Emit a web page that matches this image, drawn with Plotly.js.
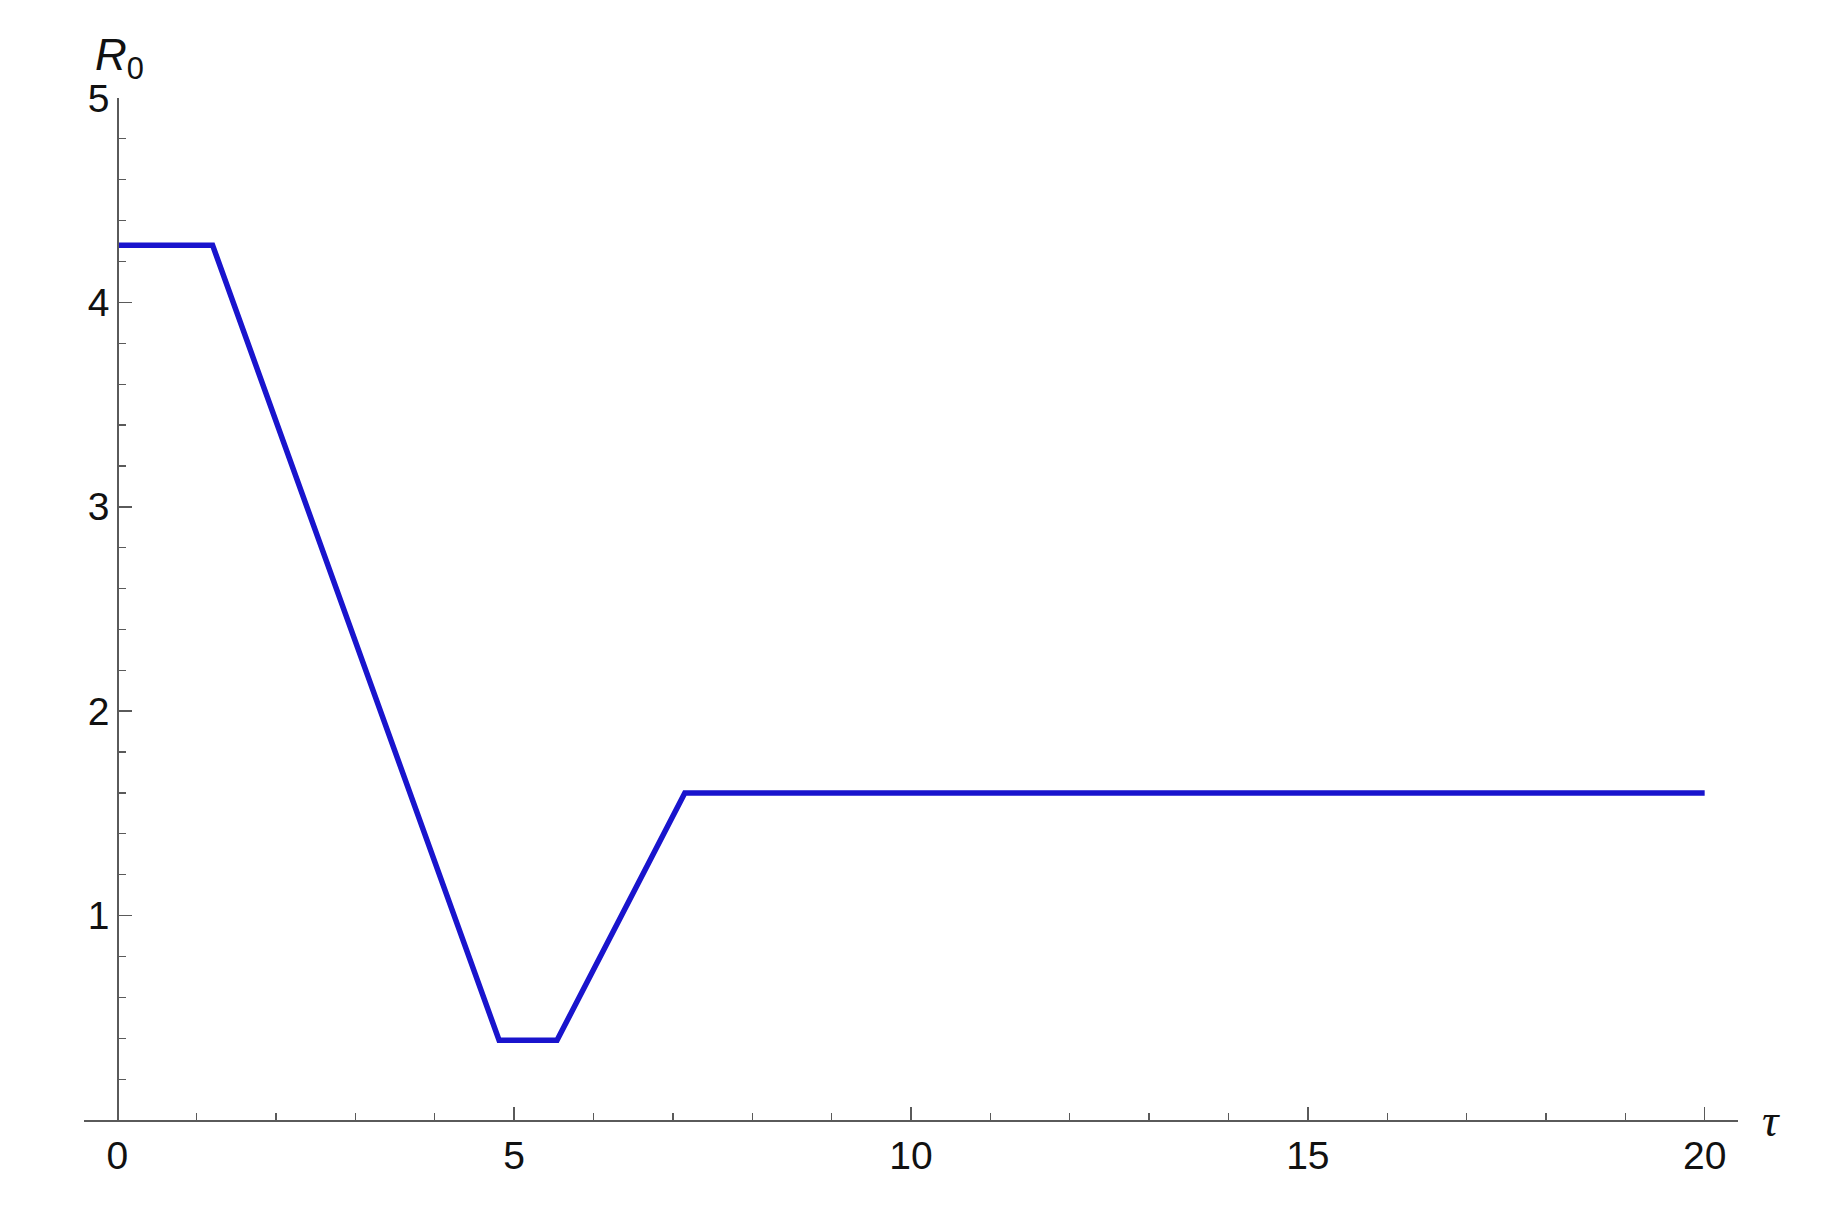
<!DOCTYPE html>
<html>
<head>
<meta charset="utf-8">
<script src="https://cdn.plot.ly/plotly-3.0.1.min.js"></script>
<style>
  html, body { margin: 0; padding: 0; background: #fff; }
  #plot { width: 1836px; height: 1231px; }
</style>
</head>
<body>
<div id="plot"></div>
<script>
// breakpoints of the piecewise R0(tau) curve
let tau = [0, 1.2, 4.81, 5.54, 7.15, 20];
let r0 = [4.28, 4.28, 0.39, 0.39, 1.6, 1.6];

let xTicks = [0, 5, 10, 15, 20];
let yTicks = [1, 2, 3, 4, 5];

let xRange = [-0.42, 20.42];
let axisGrey = "#5a5a5a";

let trace = {
  x: tau,
  y: r0,
  type: "scatter",
  mode: "lines",
  line: { color: "rgb(25,20,205)", width: 5.5 },
  hoverinfo: "skip"
};

// put the vertical axis at tau = 0
let yPos = (0 - xRange[0]) / (xRange[1] - xRange[0]);

let layout = {
  width: 1836,
  height: 1231,
  margin: { l: 84, r: 98, t: 98, b: 111 },
  paper_bgcolor: "#fff",
  plot_bgcolor: "#fff",
  showlegend: false,
  font: { family: "Liberation Sans, Arial, sans-serif", size: 39, color: "#111" },
  xaxis: {
    range: xRange,
    tickmode: "array",
    tickvals: xTicks,
    ticks: "inside",
    ticklen: 13,
    tickwidth: 1.5,
    tickcolor: axisGrey,
    showline: true,
    linecolor: axisGrey,
    linewidth: 1.8,
    showgrid: false,
    zeroline: false,
    minor: { ticks: "inside", tick0: 0, dtick: 1, ticklen: 7, tickwidth: 1.2, tickcolor: axisGrey, showgrid: false }
  },
  yaxis: {
    range: [0, 5],
    anchor: "free",
    position: yPos,
    tickmode: "array",
    tickvals: yTicks,
    ticks: "inside",
    ticklen: 13,
    tickwidth: 1.5,
    tickcolor: axisGrey,
    showline: true,
    linecolor: axisGrey,
    linewidth: 1.8,
    showgrid: false,
    zeroline: false,
    minor: { ticks: "inside", tick0: 0, dtick: 0.2, ticklen: 7, tickwidth: 1.2, tickcolor: axisGrey, showgrid: false }
  },
  annotations: [
    {
      text: "<i>R</i><sub>0</sub>",
      xref: "paper", yref: "paper",
      x: yPos, y: 1, xanchor: "center", yanchor: "bottom",
      xshift: 2,
      yshift: 10,
      showarrow: false,
      font: { family: "Liberation Sans, Arial, sans-serif", size: 44, color: "#111" }
    },
    {
      text: "<i>τ</i>",
      xref: "paper", yref: "paper",
      x: 1, y: 0, xanchor: "left", yanchor: "middle",
      xshift: 22,
      showarrow: false,
      font: { family: "Liberation Serif, Times New Roman, serif", size: 46, color: "#111" }
    }
  ]
};

Plotly.newPlot("plot", [trace], layout, { displayModeBar: false, staticPlot: true });
</script>
</body>
</html>
